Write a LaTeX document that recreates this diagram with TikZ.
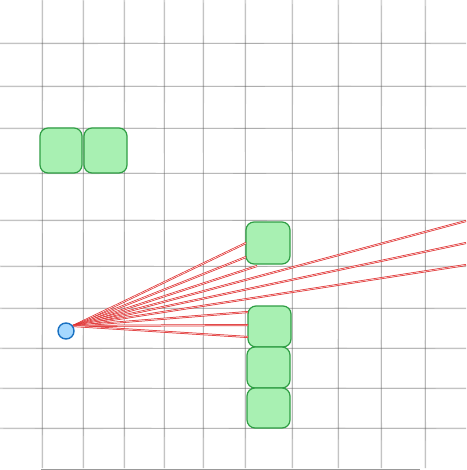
\documentclass[tikz,border=0pt]{standalone}
\usetikzlibrary{calc}
\definecolor{gridc}{HTML}{555555}
\definecolor{boxfill}{HTML}{A8F0B2}
\definecolor{boxdraw}{HTML}{2F9E44}
\definecolor{dotfill}{HTML}{A5D8FF}
\definecolor{dotdraw}{HTML}{1971C2}
\definecolor{rayc}{HTML}{E03131}
\tikzset{
  gridln/.style={draw=gridc, line width=0.9pt, opacity=0.28},
  cell/.style={draw=boxdraw, fill=boxfill, line width=1.2pt, rounded corners=8pt},
  dot/.style={circle, draw=dotdraw, fill=dotfill, line width=1.4pt, minimum size=16pt, inner sep=0pt},
  ray/.style={draw=rayc, line width=0.75pt, double=white, double distance=0.5pt},
}
\begin{document}
\begin{tikzpicture}[x=1pt,y=-1pt]
\useasboundingbox (0,0) rectangle (466,470);
\fill[white] (0,0) rectangle (466,470);
% grid
\foreach \x in {42,83,124,164,203,245,292,338,381,425}{
  \draw[gridln] (\x,0) -- (\x+0.6,468);
  \draw[gridln] (\x+0.7,0) -- (\x,468);
}
\foreach \y in {43,86,128,173,220,266,308,348,388,428}{
  \draw[gridln] (0,\y) -- (466,\y+0.6);
  \draw[gridln] (0,\y+0.7) -- (466,\y);
}
\draw[gridln, opacity=0.6] (41,469) -- (420,469);
% boxes
\draw[cell] (40,128) rectangle (82,173) node[midway] (b1) {};
\draw[cell] (84,128) rectangle (127,173) node[midway] (b2) {};
\draw[cell] (246,222) rectangle (290,264) node[midway] (b3) {};
\draw[cell] (248,306) rectangle (291,347) node[midway] (b4) {};
\draw[cell] (247,347) rectangle (290,388) node[midway] (b5) {};
\draw[cell] (247,388) rectangle (290,428) node[midway] (b6) {};
% rays
\coordinate (o) at (73,326);
\coordinate (e1) at (246,243);
\coordinate (e2) at (246,257);
\coordinate (e3) at (257,266);
\coordinate (e4) at (466,221);
\coordinate (e5) at (466,243);
\coordinate (e6) at (466,265);
\coordinate (e7) at (248,312);
\coordinate (e8) at (248,325);
\coordinate (e9) at (248,337);
\foreach \e in {e1,e2,e3,e4,e5,e6,e7,e8,e9}{
  \draw[ray] (o) -- (\e);
}
\node[dot] (p) at (66,331) {};
\end{tikzpicture}
\end{document}
